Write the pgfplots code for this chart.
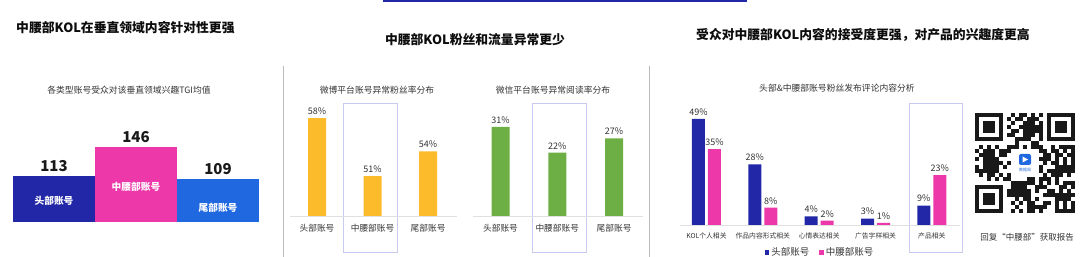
\documentclass[border=0pt]{standalone}
\usepackage{pgfplots}
\pgfplotsset{compat=1.18}
\usepackage{fontspec}
\setmainfont{Noto Sans CJK SC}
\definecolor{navy}{HTML}{2127A6}
\definecolor{pinkc}{HTML}{EC38A8}
\definecolor{bluec}{HTML}{2068E0}
\definecolor{yellowc}{HTML}{FCBB2B}
\definecolor{greenc}{HTML}{6DAE45}
\definecolor{lav}{HTML}{C8CBEF}
\definecolor{sepg}{HTML}{BBBBBB}
\definecolor{txt}{HTML}{333333}
\newcommand{\fs}[1]{\fontsize{#1}{#1}\selectfont}
\begin{document}
\begin{tikzpicture}[x=1pt,y=1pt]
\path[use as bounding box] (0,0) rectangle (1080,257);

% ---------- decorations ----------
\draw[navy, line width=2.5pt] (383,256) -- (747,256);
\draw[sepg, line width=0.8pt] (283,0) -- (283,191);
\draw[sepg, line width=0.8pt] (649,0) -- (649,191);

% ---------- titles ----------
\node[anchor=west, font=\bfseries\fs{12.8}, text=black!95, inner sep=0] at (16,229) {中腰部KOL在垂直领域内容针对性更强};
\node[font=\bfseries\fs{12.8}, text=black!95, inner sep=0] at (475,217) {中腰部KOL粉丝和流量异常更少};
\node[font=\bfseries\fs{12.8}, text=black!95, inner sep=0] at (863,222) {受众对中腰部KOL内容的接受度更强，对产品的兴趣度更高};

\node[font=\fs{8.8}, text=txt, inner sep=0] at (129,167) {各类型账号受众对该垂直领域兴趣TGI均值};
\node[font=\fs{8.8}, text=txt, inner sep=0] at (377,167) {微博平台账号异常粉丝率分布};
\node[font=\fs{8.8}, text=txt, inner sep=0] at (553,167) {微信平台账号异常阅读率分布};
\node[font=\fs{8.8}, text=txt, inner sep=0] at (837,169) {头部\&中腰部账号粉丝发布评论内容分析};

% ---------- panel 1 ----------
\begin{axis}[at={(13pt,35pt)}, anchor=south west, scale only axis,
  width=246pt, height=100pt, xmin=0, xmax=3, ymin=60, ymax=175,
  axis lines=none, clip mode=individual, ybar, bar width=82pt,
  /pgf/number format/assume math mode=true,
  nodes near coords={\pgfmathprintnumber\pgfplotspointmeta},
  every node near coord/.append style={font=\bfseries\fs{15}, text=black!90, yshift=1pt}]
\addplot[fill=navy, draw=none, bar shift=0pt] coordinates {(0.5,113)};
\addplot[fill=pinkc, draw=none, bar shift=0pt] coordinates {(1.5,146)};
\addplot[fill=bluec, draw=none, bar shift=0pt] coordinates {(2.5,109)};
\node[font=\bfseries\fs{9.7}, text=white] at (axis cs:0.5,84) {头部账号};
\node[font=\bfseries\fs{9.7}, text=white] at (axis cs:1.5,100) {中腰部账号};
\node[font=\bfseries\fs{9.7}, text=white] at (axis cs:2.5,76) {尾部账号};
\end{axis}

% ---------- panel 2A ----------
\draw[lav, line width=0.7pt] (343,5) rectangle (397,154);
\begin{axis}[at={(290pt,41pt)}, anchor=south west, scale only axis,
  width=167pt, height=120pt, xmin=-0.486, xmax=2.52, ymin=46.2, ymax=60.66,
  axis x line*=bottom, axis y line=none,
  x axis line style={draw=black!12, -}, major tick length=0pt,
  xtick={0,1,2}, xticklabels={头部账号,中腰部账号,尾部账号}, ytick=\empty,
  xticklabel style={font=\fs{8.7}, text=txt, yshift=-5pt},
  ybar, bar width=18pt, clip mode=individual,
  /pgf/number format/assume math mode=true,
  nodes near coords={\pgfmathprintnumber\pgfplotspointmeta\%},
  every node near coord/.append style={font=\fs{9}, text=txt}]
\addplot[fill=yellowc, draw=none] coordinates {(0,58) (1,51) (2,54)};
\end{axis}

% ---------- panel 2B ----------
\draw[lav, line width=0.7pt] (532,5) rectangle (586,154);
\begin{axis}[at={(473pt,41pt)}, anchor=south west, scale only axis,
  width=170pt, height=120pt, xmin=-0.485, xmax=2.51, ymin=0, ymax=41.7,
  axis x line*=bottom, axis y line=none,
  x axis line style={draw=black!12, -}, major tick length=0pt,
  xtick={0,1,2}, xticklabels={头部账号,中腰部账号,尾部账号}, ytick=\empty,
  xticklabel style={font=\fs{8.7}, text=txt, yshift=-5pt},
  ybar, bar width=18pt, clip mode=individual,
  /pgf/number format/assume math mode=true,
  nodes near coords={\pgfmathprintnumber\pgfplotspointmeta\%},
  every node near coord/.append style={font=\fs{9}, text=txt}]
\addplot[fill=greenc, draw=none] coordinates {(0,31) (1,22) (2,27)};
\end{axis}

% ---------- panel 3 ----------
\draw[lav, line width=0.7pt] (909,5) rectangle (962,154);
\begin{axis}[at={(680pt,32pt)}, anchor=south west, scale only axis,
  width=280pt, height=120pt, xmin=-0.47, xmax=4.5, ymin=0, ymax=55.4,
  axis x line*=bottom, axis y line=none,
  x axis line style={draw=black!12, -}, major tick length=0pt,
  xtick={0,1,2,3,4}, xticklabels={KOL个人相关,作品内容形式相关,心情表达相关,广告字样相关,产品相关}, ytick=\empty,
  xticklabel style={font=\fs{6.8}, text=txt, yshift=-4pt},
  ybar=3pt, bar width=13pt, clip mode=individual,
  /pgf/number format/assume math mode=true,
  nodes near coords={\pgfmathprintnumber\pgfplotspointmeta\%},
  every node near coord/.append style={font=\fs{9}, text=txt},
  legend columns=2,
  legend style={draw=none, fill=none, font=\fs{9.5}, text=txt, at={(0.5,-0.23)}, anchor=center,
    /tikz/every even column/.append style={column sep=8pt}}]
\addplot[fill=navy, draw=none, legend image code/.code={\fill[navy] (0pt,-2.3pt) rectangle (4.6pt,2.3pt);}] coordinates {(0,49) (1,28) (2,4) (3,3) (4,9)};
\addplot[fill=pinkc, draw=none, legend image code/.code={\fill[pinkc] (0pt,-2.3pt) rectangle (4.6pt,2.3pt);}] coordinates {(0,35) (1,8) (2,2) (3,1) (4,23)};
\legend{头部账号,中腰部账号}
\end{axis}

% ---------- QR code ----------
\begin{scope}[shift={(975,44)}]
\foreach \i in {0,...,24}{\foreach \j in {0,...,24}{
  \pgfmathtruncatemacro\sk{(\i<8)*(\j<8)+(\i>16)*(\j<8)+(\i<8)*(\j>16)+(\i>8)*(\i<16)*(\j>8)*(\j<16)}
  \pgfmathtruncatemacro\v{mod(mod(\i*\i*\j,11)+mod(\j*\j*3+\i*5+\j*17,11)+mod(\i*\j*7,5),11)}
  \ifnum\sk=0 \ifnum\v<6 \fill[black!90] (4*\i,96-4*\j) rectangle ++(4,4); \fi\fi
}}
\foreach \p in {(0,72),(72,72),(0,0)}{
  \fill[black!90] \p rectangle ++(28,28);
  \fill[white] \p ++(4,4) rectangle ++(20,20);
  \fill[black!90] \p ++(8,8) rectangle ++(12,12);
}
\fill[white] (37,37) rectangle (63,63);
\fill[bluec, rounded corners=2pt] (44,48) rectangle (56,59);
\fill[white] (47.5,50.5) -- (47.5,56.5) -- (53,53.5) -- cycle;
\node[font=\fs{4}, text=bluec, inner sep=0] at (50,43) {数据局};
\end{scope}
\node[font=\fs{8.5}, text=txt, inner sep=0] at (1027,20) {回复“中腰部”获取报告};

\end{tikzpicture}
\end{document}
